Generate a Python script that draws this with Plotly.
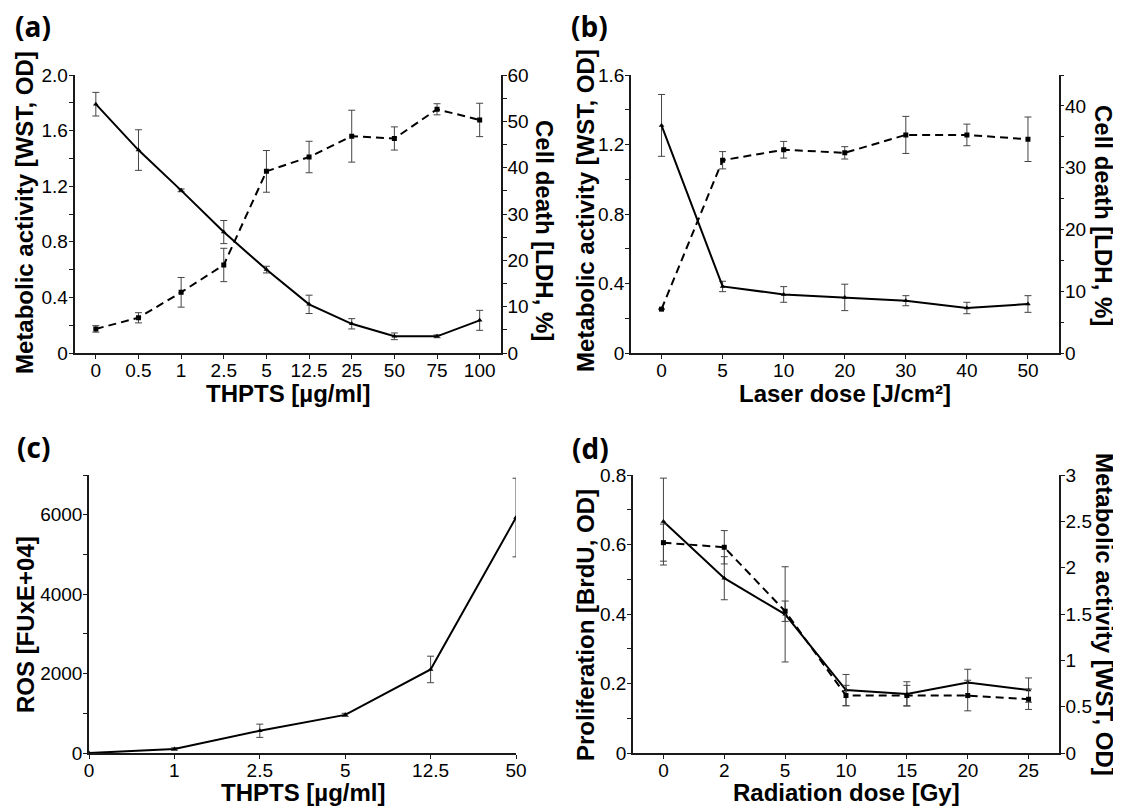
import plotly.graph_objects as go

W, H = 1121, 807
PAGE_MARGIN = 8  # default body margin of the html page

# (a) THPTS dose response
a_dose = ["0", "0.5", "1", "2.5", "5", "12.5", "25", "50", "75", "100"]
a_wst = [1.79, 1.46, 1.17, 0.87, 0.60, 0.35, 0.21, 0.12, 0.12, 0.235]
a_wst_err = [0.085, 0.146, 0.01, 0.083, 0.024, 0.066, 0.037, 0.024, 0.01, 0.072]
a_ldh = [5.2, 7.6, 13.1, 19.0, 39.2, 42.3, 46.8, 46.3, 52.6, 50.3]
a_ldh_err = [0.7, 1.1, 3.2, 3.6, 4.5, 3.4, 5.6, 2.5, 1.2, 3.6]

# (b) laser dose response
b_dose = ["0", "5", "10", "20", "30", "40", "50"]
b_wst = [1.31, 0.383, 0.337, 0.32, 0.301, 0.259, 0.282]
b_wst_err = [0.178, 0.03, 0.045, 0.076, 0.029, 0.033, 0.048]
b_ldh = [7.1, 31.2, 32.9, 32.4, 35.3, 35.3, 34.6]
b_ldh_err = [0, 1.4, 1.35, 1.0, 3.0, 1.75, 3.6]

# (c) ROS
c_dose = ["0", "1", "2.5", "5", "12.5", "50"]
c_ros = [0, 100, 560, 960, 2104, 5929]
c_ros_err = [0, 30, 167, 40, 334, 990]

# (d) radiation dose response
d_dose = ["0", "2", "5", "10", "15", "20", "25"]
d_brdu = [0.666, 0.503, 0.399, 0.181, 0.170, 0.203, 0.181]
d_brdu_err = [0.125, 0.062, 0.137, 0.045, 0.035, 0.038, 0.035]
d_wst = [2.27, 2.22, 1.53, 0.62, 0.62, 0.62, 0.58]
d_wst_err = [0.2, 0.18, 0.11, 0.11, 0.11, 0.165, 0.11]

# tick labels
a_left_ticks = [0, 0.4, 0.8, 1.2, 1.6, 2.0]
a_left_text = ["0", "0.4", "0.8", "1.2", "1.6", "2.0"]
b_left_ticks = [0, 0.4, 0.8, 1.2, 1.6]
b_left_text = ["0", "0.4", "0.8", "1.2", "1.6"]
d_left_ticks = [0, 0.2, 0.4, 0.6, 0.8]
d_left_text = ["0", "0.2", "0.4", "0.6", "0.8"]
d_right_ticks = [0, 0.5, 1, 1.5, 2, 2.5, 3]
d_right_text = ["0", "0.5", "1", "1.5", "2", "2.5", "3"]

TICK_FONT = dict(family="Liberation Sans", size=19, color="black")
TITLE_FONT = dict(family="Liberation Sans", size=24, color="black")
LABEL_FONT = dict(family="Open Sans", size=28, color="black")
AXIS_COLOR = "#1a1a1a"
ERR_COLOR = "#444444"


# positions below are screen pixels of the 1121x807 window;
# the page body shifts the figure by PAGE_MARGIN
def px_x(x):
    return (x - PAGE_MARGIN) / W


def px_y(y):
    return (H - (y - PAGE_MARGIN)) / H


def xdom(x0, x1):
    return [px_x(x0), px_x(x1)]


def ydom(top, bottom):
    return [px_y(bottom), px_y(top)]


def line_trace(x, y, err, xa, ya, dashed=False):
    return go.Scatter(
        x=x, y=y, xaxis=xa, yaxis=ya,
        mode="lines+markers",
        line=dict(color="black", width=2, dash="8px,5px" if dashed else "solid"),
        marker=dict(symbol="square" if dashed else "triangle-up", size=5, color="black"),
        error_y=dict(type="data", array=err, color=ERR_COLOR, thickness=1, width=3.5),
        showlegend=False,
    )


def cat_axis(domain, anchor, n, start=-0.5):
    return dict(
        domain=domain, anchor=anchor, type="category",
        range=[start, n - 1 + (0 if start == 0 else 0.5)],
        showline=True, linecolor=AXIS_COLOR, linewidth=1.5,
        ticks="outside", ticklen=4, tickcolor=AXIS_COLOR, tickwidth=1,
        tickfont=TICK_FONT, showgrid=False, zeroline=False, fixedrange=True,
        automargin=False, ticklabelstandoff=-5,
    )


def val_axis(domain, anchor, rng, dtick_minor, side="left", tickvals=None, ticktext=None,
             dtick=None, overlaying=None):
    ax = dict(
        anchor=anchor, range=rng, side=side,
        showline=True, linecolor=AXIS_COLOR, linewidth=1.5,
        ticks="outside", ticklen=4, tickcolor=AXIS_COLOR, tickwidth=1,
        tickfont=TICK_FONT, showgrid=False, zeroline=False, fixedrange=True,
        automargin=False, ticklabelstandoff=-3,
    )
    if domain is not None:
        ax["domain"] = domain
    if overlaying:
        ax["overlaying"] = overlaying
    if tickvals is not None:
        ax["tickmode"] = "array"
        ax["tickvals"] = tickvals
        ax["ticktext"] = ticktext
    else:
        ax["dtick"] = dtick
    if dtick_minor:
        ax["minor"] = dict(dtick=dtick_minor, ticks="outside", ticklen=4,
                           tickcolor=AXIS_COLOR, tickwidth=1, showgrid=False)
    return ax


fig = go.Figure()

# panel traces
fig.add_trace(line_trace(a_dose, a_ldh, a_ldh_err, "x", "y2", dashed=True))
fig.add_trace(line_trace(a_dose, a_wst, a_wst_err, "x", "y"))
fig.add_trace(line_trace(b_dose, b_ldh, b_ldh_err, "x2", "y4", dashed=True))
fig.add_trace(line_trace(b_dose, b_wst, b_wst_err, "x2", "y3"))
fig.add_trace(line_trace(c_dose, c_ros, c_ros_err, "x3", "y5"))
fig.add_trace(line_trace(d_dose, d_wst, d_wst_err, "x4", "y7", dashed=True))
fig.add_trace(line_trace(d_dose, d_brdu, d_brdu_err, "x4", "y6"))

top_row = ydom(75, 353)
bot_row = ydom(475, 753)

fig.update_layout(
    width=W, height=H, autosize=False,
    margin=dict(l=0, r=0, t=0, b=0, pad=0, autoexpand=False),
    paper_bgcolor="white", plot_bgcolor="white",
    xaxis=cat_axis(xdom(74.5, 501), "y", len(a_dose)),
    yaxis=val_axis(top_row, "x", [0, 2.0], 0.2, tickvals=a_left_ticks, ticktext=a_left_text),
    yaxis2=val_axis(None, "x", [0, 60], 5, side="right", dtick=10, overlaying="y"),
    xaxis2=cat_axis(xdom(631, 1058.5), "y3", len(b_dose)),
    yaxis3=val_axis(top_row, "x2", [0, 1.6], 0.2, tickvals=b_left_ticks, ticktext=b_left_text),
    yaxis4=val_axis(None, "x2", [0, 45], 5, side="right", dtick=10, overlaying="y3"),
    xaxis3=cat_axis(xdom(89, 516), "y5", len(c_dose), start=0),
    yaxis5=val_axis(bot_row, "x3", [0, 7000], 1000, dtick=2000),
    xaxis4=cat_axis(xdom(633, 1059), "y6", len(d_dose)),
    yaxis6=val_axis(bot_row, "x4", [0, 0.8], 0.1, tickvals=d_left_ticks, ticktext=d_left_text),
    yaxis7=val_axis(None, "x4", [0, 3], None, side="right", tickvals=d_right_ticks,
                    ticktext=d_right_text, overlaying="y6"),
)


def text_at(text, x, y, font, angle=0, bold=True):
    fig.add_annotation(
        text=f"<b>{text}</b>" if bold else text,
        x=px_x(x), y=px_y(y), xref="paper", yref="paper",
        xanchor="center", yanchor="middle", showarrow=False,
        textangle=angle, font=font,
    )


# panel letters
text_at("(a)", 33, 26, LABEL_FONT)
text_at("(b)", 589, 26, LABEL_FONT)
text_at("(c)", 33, 447, LABEL_FONT)
text_at("(d)", 590, 448, LABEL_FONT)

# axis titles
text_at("THPTS [µg/ml]", 288, 393, TITLE_FONT)
text_at("Laser dose [J/cm²]", 845, 393, TITLE_FONT)
text_at("THPTS [µg/ml]", 303, 792, TITLE_FONT)
text_at("Radiation dose [Gy]", 846, 792, TITLE_FONT)

text_at("Metabolic activity [WST, OD]", 25, 213, TITLE_FONT, angle=-90)
text_at("Cell death [LDH, %]", 545, 230, TITLE_FONT, angle=90)
text_at("Metabolic activity [WST, OD]", 585, 211, TITLE_FONT, angle=-90)
text_at("Cell death [LDH, %]", 1104, 215, TITLE_FONT, angle=90)
text_at("ROS [FUxE+04]", 25, 625, TITLE_FONT, angle=-90)
text_at("Proliferation [BrdU, OD]", 585, 625, TITLE_FONT, angle=-90)
text_at("Metabolic activity [WST, OD]", 1105, 614, TITLE_FONT, angle=90)

fig.write_html("out.html")
